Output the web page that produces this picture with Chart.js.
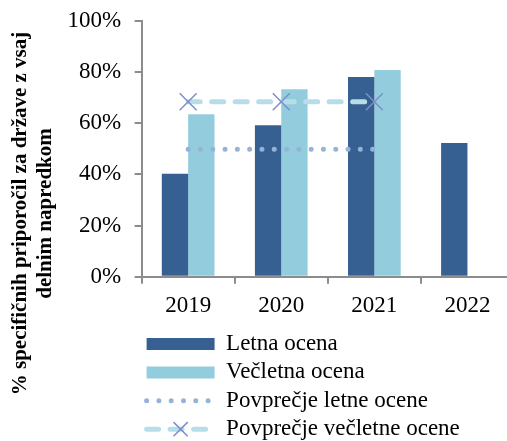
<!DOCTYPE html>
<html><head><meta charset="utf-8">
<script src="https://cdn.jsdelivr.net/npm/chart.js@4"></script>
<style>html{margin:0;padding:0;overflow:hidden;background:#fff}body{margin:0;padding:0;width:600px;height:441px;background:#fff}#wrap{width:514px;height:441px}canvas{display:block}</style>
</head><body>
<div id="wrap"><canvas id="c" width="514" height="441" style="width:514px;height:441px"></canvas></div>
<script>
const categories = ['2019', '2020', '2021', '2022'];
const letnaOcena = [40.3, 59.2, 78.1, 52.3];
const vecletnaOcena = [63.5, 73.3, 80.8, null];
const povprecjeLetne = [49.8, 49.8, 49.8, null];
const povprecjeVecletne = [68.4, 68.4, 68.4, null];
const yTicks = [0, 20, 40, 60, 80, 100];
const seriesNames = ['Letna ocena', 'Večletna ocena', 'Povprečje letne ocene', 'Povprečje večletne ocene'];
const yTitle = ['% specifičnih priporočil za države z vsaj', 'delnim napredkom'];

const FONT = '"Liberation Serif", "Times New Roman", serif';
const AXIS = '#8C8C8C';
const LEG_PAD = 5.4;
const LEG_FONT = 23;

const legendPlace = {
  id: 'legendPlace',
  afterLayout(chart) {
    const lg = chart.legend, ca = chart.chartArea;
    const w = lg.width, h = lg.height;
    lg.left = ca.left + 5 - LEG_PAD;
    lg.top = ca.bottom + 55.8 - LEG_PAD;
    lg.right = lg.left + w;
    lg.bottom = lg.top + h;
  },
  afterDraw(chart) {
    const lg = chart.legend, ds = chart.data.datasets[3], ctx = chart.ctx;
    const x = lg.left + LEG_PAD + 34;
    const y = lg.top + LEG_PAD + 3 * (LEG_FONT + LEG_PAD) + LEG_FONT / 2;
    ctx.save();
    ctx.strokeStyle = ds.pointBorderColor;
    ctx.fillStyle = ds.pointBorderColor;
    ctx.lineWidth = ds.pointBorderWidth;
    ctx.setLineDash([]);
    Chart.helpers.drawPoint(ctx, {pointStyle: 'crossRot', radius: 10, borderWidth: ds.pointBorderWidth, rotation: 0}, x, y);
    ctx.restore();
  }
};

new Chart(document.getElementById('c'), {
  type: 'bar',
  data: {
    labels: categories,
    datasets: [
      {label: seriesNames[0], data: letnaOcena, backgroundColor: '#376092', categoryPercentage: 0.566, barPercentage: 1.0, order: 2},
      {label: seriesNames[1], data: vecletnaOcena, backgroundColor: '#93CDDD', categoryPercentage: 0.566, barPercentage: 1.0, order: 2},
      {type: 'line', label: seriesNames[2], data: povprecjeLetne, borderColor: '#95B3D7', borderWidth: 5, borderDash: [0, 12.3], borderCapStyle: 'round', pointRadius: 0, fill: false, tension: 0, order: 0},
      {type: 'line', label: seriesNames[3], data: povprecjeVecletne, borderColor: '#B7DEE8', borderWidth: 5, borderDash: [12, 11.5], borderCapStyle: 'round', pointStyle: 'crossRot', pointRadius: 12, pointBorderColor: '#7C8FC8', pointBackgroundColor: '#7C8FC8', pointBorderWidth: 1.5, fill: false, tension: 0, order: 0}
    ]
  },
  options: {
    responsive: false,
    devicePixelRatio: 1,
    animation: false,
    events: [],
    layout: {autoPadding: false, padding: {top: 21, bottom: 35, left: 0, right: 0}},
    plugins: {
      tooltip: {enabled: false},
      title: {
        display: true, position: 'left', text: yTitle, color: '#000',
        font: {family: FONT, size: 21, weight: 'bold', lineHeight: 1.15},
        padding: {top: 9, bottom: 0}
      },
      legend: {
        position: 'chartArea', align: 'start', fullSize: false,
        labels: {
          usePointStyle: true, pointStyleWidth: 68, boxWidth: 68, boxHeight: 12,
          padding: LEG_PAD, color: '#000', font: {family: FONT, size: LEG_FONT},
          generateLabels(chart) {
            return chart.data.datasets.map((ds, i) => {
              if (ds.type === 'line') {
                return {text: ds.label, fillStyle: 'rgba(0,0,0,0)', strokeStyle: ds.borderColor, lineWidth: ds.borderWidth,
                  lineDash: ds.borderDash, lineCap: 'round', pointStyle: 'line', datasetIndex: i, hidden: false, fontColor: '#000'};
              }
              return {text: ds.label, fillStyle: ds.backgroundColor, strokeStyle: ds.backgroundColor, lineWidth: 0,
                pointStyle: 'rect', datasetIndex: i, hidden: false, fontColor: '#000'};
            });
          }
        }
      }
    },
    scales: {
      x: {
        grid: {offset: true, drawOnChartArea: false, drawTicks: true, tickLength: 7, color: AXIS, lineWidth: 2},
        border: {color: AXIS, width: 2},
        ticks: {font: {family: FONT, size: 23}, color: '#000', padding: 8, maxRotation: 0},
        afterFit(s) { s.height = 129.3; s.paddingLeft = 0; s.paddingRight = 0; }
      },
      y: {
        min: 0, max: 100,
        afterBuildTicks(s) { s.ticks = yTicks.map(v => ({value: v})); },
        grid: {drawOnChartArea: false, drawTicks: true, tickLength: 7, color: AXIS, lineWidth: 2},
        border: {color: AXIS, width: 2},
        ticks: {font: {family: FONT, size: 23}, color: '#000', padding: 13.5, callback: v => v + '%'},
        afterFit(s) { s.width = 84.3; s.paddingTop = 0; s.paddingBottom = 0; }
      }
    }
  },
  plugins: [legendPlace]
});
</script>
</body></html>
